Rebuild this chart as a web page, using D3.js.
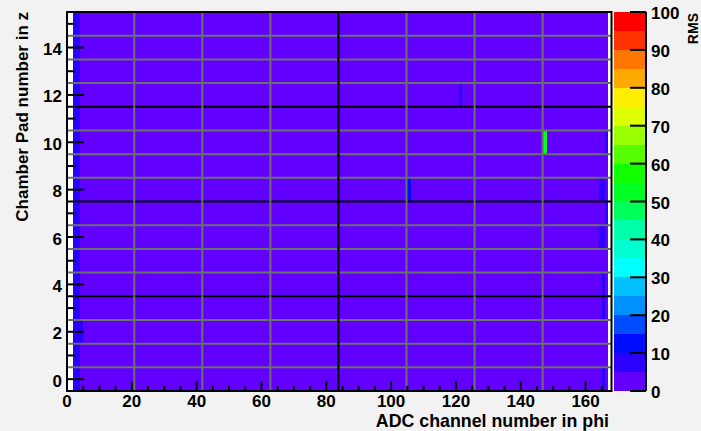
<!DOCTYPE html>
<html>
<head>
<meta charset="utf-8">
<script src="https://cdn.jsdelivr.net/npm/d3@7"></script>
<style>
  html, body { margin: 0; padding: 0; background: #f2f2f2; }
  svg { display: block; }
  text { font-family: "Liberation Sans", Arial, Helvetica, sans-serif; font-weight: bold; fill: #000; }
</style>
</head>
<body>
<svg id="chart" width="701" height="431"></svg>
<script>
// ---------------- data ----------------
const nChannels = 168;                       // ADC channels in phi (x bins)
const nPads = 16;                            // chamber pads in z (y bins)
const typicalRMS = 2.5;                      // the common (purple) level of nearly every cell
const emptyChannels = [0, 1, 167];           // columns with no entries (white)
const lowRMSChannels = [2, 3];               // columns slightly raised on every pad
const lowRMSValue = 7;
// individual cells that stand out: [channel, pad, rms]
const hotChannels = [4, 121, 105, 147, 166, 164, 165, 164, 165, 166, 165, 165, 165];
const hotPads     = [2, 12,  8,   10,  10,  8,   8,   6,   6,   7,   4,   3,   0];
const hotValues   = [7, 7,   12,  51,  7,   7,   7,   7,   7,   6,   7,   7,   7];

const xTicks = [0, 20, 40, 60, 80, 100, 120, 140, 160];
const yTicks = [0, 2, 4, 6, 8, 10, 12, 14];
const zTicks = [0, 10, 20, 30, 40, 50, 60, 70, 80, 90, 100];
const chipBoundaries = [21, 42, 63, 84, 105, 126, 147];       // vertical separators
const chipMajor = [84];
const padBoundaries = d3.range(0.5, 15, 1);                     // horizontal separators
const padMajor = [3.5, 7.5, 11.5];

// palette: 20 bands of 5 RMS units, bottom to top
const paletteColors = [
  "#6100ff", "#2c00ff", "#000cff", "#004cff", "#0090ff",
  "#00c0ff", "#00ffff", "#00ffd0", "#00ffaa", "#00ff5a",
  "#00ff22", "#11ff00", "#55ff00", "#99ff00", "#ddff00",
  "#ffee00", "#ffaa00", "#ff7700", "#ff3300", "#ff0000"
];

// build the cell table
const cells = [];
for (let c = 0; c < nChannels; c++) {
  for (let p = 0; p < nPads; p++) {
    let v = typicalRMS;
    if (emptyChannels.includes(c)) v = 0;
    else if (lowRMSChannels.includes(c)) v = lowRMSValue;
    cells.push({c, p, v});
  }
}
hotChannels.forEach((c, i) => {
  const cell = cells.find(d => d.c === c && d.p === hotPads[i]);
  if (cell) cell.v = hotValues[i];
});

// ---------------- drawing ----------------
const svg = d3.select("#chart");
const frame = {left: 67, right: 611.5, top: 12, bottom: 391};

const x = d3.scaleLinear().domain([0, nChannels]).range([frame.left, frame.right]);
const y = d3.scaleLinear().domain([-0.5, nPads - 0.5]).range([frame.bottom, frame.top]);
const zMax = 100;
const z = d3.scaleLinear().domain([0, zMax]).range([frame.bottom, frame.top]);
const color = d3.scaleThreshold()
  .domain(d3.range(5, 100, 5))
  .range(paletteColors);

// frame background
svg.append("rect")
  .attr("x", frame.left).attr("y", frame.top)
  .attr("width", frame.right - frame.left).attr("height", frame.bottom - frame.top)
  .attr("fill", "#ffffff");

// cells
svg.append("g").selectAll("rect")
  .data(cells.filter(d => d.v > 0))
  .join("rect")
  .attr("x", d => x(d.c))
  .attr("y", d => y(d.p + 0.5))
  .attr("width", d => x(d.c + 1) - x(d.c))
  .attr("height", d => y(d.p - 0.5) - y(d.p + 0.5))
  .attr("fill", d => color(d.v))
  .attr("shape-rendering", "crispEdges");

// separator lines
const sep = svg.append("g");
sep.selectAll("line.h")
  .data(padBoundaries)
  .join("line")
  .attr("x1", frame.left).attr("x2", frame.right)
  .attr("y1", d => y(d)).attr("y2", d => y(d))
  .attr("stroke", d => padMajor.includes(d) ? "#000" : "#6e6e6e")
  .attr("stroke-width", 2);
sep.selectAll("line.v")
  .data(chipBoundaries)
  .join("line")
  .attr("y1", frame.top).attr("y2", frame.bottom)
  .attr("x1", d => x(d) - 0.8).attr("x2", d => x(d) - 0.8)
  .attr("stroke", d => chipMajor.includes(d) ? "#000" : "#6e6e6e")
  .attr("stroke-width", 2);

// x axis ticks (inside, pointing up)
const xAxisG = svg.append("g");
const xMinor = d3.range(0, 170, 5).filter(v => v <= nChannels);
xAxisG.selectAll("line")
  .data(xMinor)
  .join("line")
  .attr("x1", d => x(d)).attr("x2", d => x(d))
  .attr("y1", frame.bottom)
  .attr("y2", d => frame.bottom - (d % 20 === 0 ? 10 : 5))
  .attr("stroke", "#000").attr("stroke-width", 2);
xAxisG.selectAll("text")
  .data(xTicks)
  .join("text")
  .attr("x", d => x(d))
  .attr("y", 406.5)
  .attr("text-anchor", "middle")
  .attr("font-size", 17)
  .text(d => d);

// y axis ticks (inside, pointing right)
const yAxisG = svg.append("g");
yAxisG.selectAll("line")
  .data(d3.range(0, nPads))
  .join("line")
  .attr("x1", frame.left)
  .attr("x2", d => frame.left + (d % 2 === 0 ? 17 : 8))
  .attr("y1", d => y(d)).attr("y2", d => y(d))
  .attr("stroke", "#000").attr("stroke-width", 2);
yAxisG.selectAll("text")
  .data(yTicks)
  .join("text")
  .attr("x", 62)
  .attr("y", d => y(d) + 7.5)
  .attr("text-anchor", "end")
  .attr("font-size", 17)
  .text(d => d);

// frame border
svg.append("rect")
  .attr("x", frame.left).attr("y", frame.top)
  .attr("width", frame.right - frame.left).attr("height", frame.bottom - frame.top)
  .attr("fill", "none").attr("stroke", "#000").attr("stroke-width", 2);

// axis titles
svg.append("text")
  .attr("x", 609).attr("y", 427)
  .attr("text-anchor", "end")
  .attr("font-size", 17.8)
  .text("ADC channel number in phi");
svg.append("text")
  .attr("transform", "translate(28,12) rotate(-90)")
  .attr("text-anchor", "end")
  .attr("font-size", 17)
  .text("Chamber Pad number in z");

// colour bar
const bar = {left: 614, right: 646};
const bands = d3.range(0, zMax, 5);
svg.append("g").selectAll("rect")
  .data(bands)
  .join("rect")
  .attr("x", bar.left)
  .attr("y", d => z(d + 5))
  .attr("width", bar.right - bar.left)
  .attr("height", d => z(d) - z(d + 5))
  .attr("fill", d => color(d + 0.1))
  .attr("shape-rendering", "crispEdges");
const zAxisG = svg.append("g");
zAxisG.append("line")
  .attr("x1", bar.right).attr("x2", bar.right)
  .attr("y1", frame.top).attr("y2", frame.bottom)
  .attr("stroke", "#000").attr("stroke-width", 2);
zAxisG.selectAll("line.t")
  .data(zTicks)
  .join("line")
  .attr("class", "t")
  .attr("x1", bar.right - 16).attr("x2", bar.right)
  .attr("y1", d => z(d)).attr("y2", d => z(d))
  .attr("stroke", "#000").attr("stroke-width", 2);
zAxisG.selectAll("text")
  .data(zTicks)
  .join("text")
  .attr("x", 651)
  .attr("y", d => z(d) + 7)
  .attr("font-size", 17)
  .text(d => d);
svg.append("text")
  .attr("transform", "translate(697.5,13) rotate(-90)")
  .attr("text-anchor", "end")
  .attr("font-size", 14)
  .text("RMS");
</script>
</body>
</html>
